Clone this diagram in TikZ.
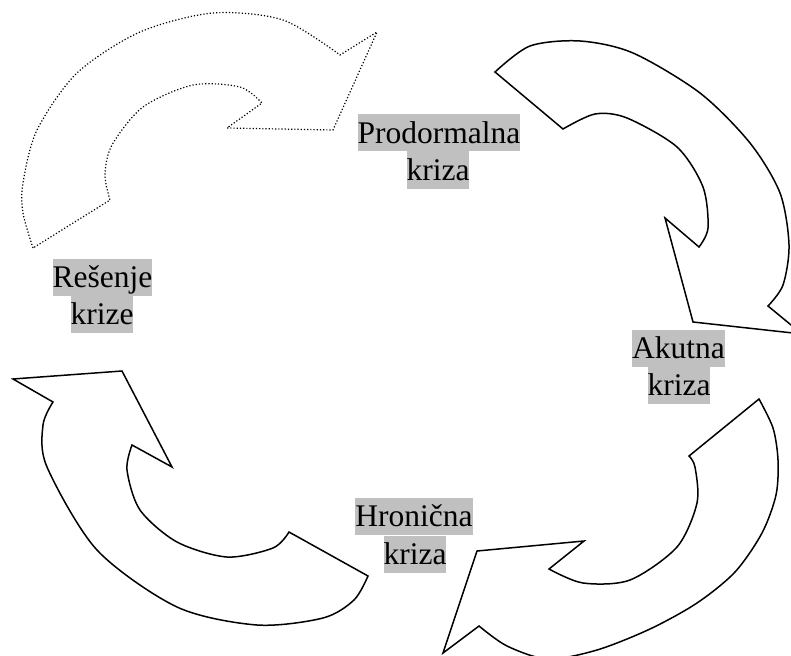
\documentclass[tikz,border=0pt]{standalone}
\usepackage{fontspec}
\setmainfont{Liberation Serif}
\definecolor{hl}{RGB}{192,192,192}
\begin{document}
\begin{tikzpicture}[x=1pt,y=-1pt,
  arrowshape/.style={draw=black,line width=1.5pt,fill=white,line join=miter},
  ghost/.style={draw=black,line width=1.2pt,dash pattern=on 1.2pt off 2pt,fill=white},
  lbl/.style={fill=hl,inner sep=0pt,text height=28.5pt,text depth=8.5pt,font=\fontsize{31.5}{37}\selectfont}]
\useasboundingbox (0,0) rectangle (791,655);
\clip (0,0) rectangle (791,655);
% arrow 1 (dotted, top-left)
\draw[ghost] plot[smooth] coordinates {(33,248) (23,213) (23,183) (37,130) (77,73) (140,32) (213,13) (283,20) (340,55)}
  -- (377,32) -- (333,130) -- (227,128) -- (262,103)
  -- plot[smooth] coordinates {(262,103) (240,87) (193,85) (143,107) (112,145) (105,175) (110,200)} -- cycle;
% arrow 2 (top-right)
\draw[arrowshape] plot[smooth] coordinates {(495,72) (530,46) (580,41) (633,53) (700,93) (750,143) (780,193) (789,245) (783,285) (768,306)}
  -- (802,334) -- (693,322) -- (665,218) -- (699,247)
  -- plot[smooth] coordinates {(699,247) (708,228) (703,187) (677,147) (627,118) (595,114) (563,129)} -- cycle;
% arrow 3 (bottom-right)
\draw[arrowshape] plot[smooth] coordinates {(759,399) (773,428) (778,460) (776,495) (762,533) (735,572) (697,603) (650,629) (597,650) (548,659) (507,646) (479,626)}
  -- (443,653) -- (477,551) -- (584,541) -- (549,569)
  -- plot[smooth] coordinates {(549,569) (583,583) (630,580) (677,547) (697,503) (695,467) (689,456)} -- cycle;
% arrow 4 (bottom-left)
\draw[arrowshape] plot[smooth] coordinates {(368,576) (354,600) (323,618) (257,625) (177,607) (97,550) (47,467) (43,425) (53,402)}
  -- (13,379) -- (122,371) -- (172,467) -- (132,445)
  -- plot[smooth] coordinates {(132,445) (127,470) (140,510) (177,542) (227,557) (273,548) (289,532)} -- cycle;
% labels
\node[lbl] (p1) at (439,133) {Prodormalna};
\node[lbl] (p2) at (438,170) {kriza};
\node[lbl] (a1) at (678.5,348) {Akutna};
\node[lbl] (a2) at (679,385) {kriza};
\node[lbl] (h1) at (414,516.5) {Hronična};
\node[lbl] (h2) at (415,554) {kriza};
\node[lbl] (r1) at (102.5,277) {Rešenje};
\node[lbl] (r2) at (102,314.5) {krize};
\end{tikzpicture}
\end{document}
